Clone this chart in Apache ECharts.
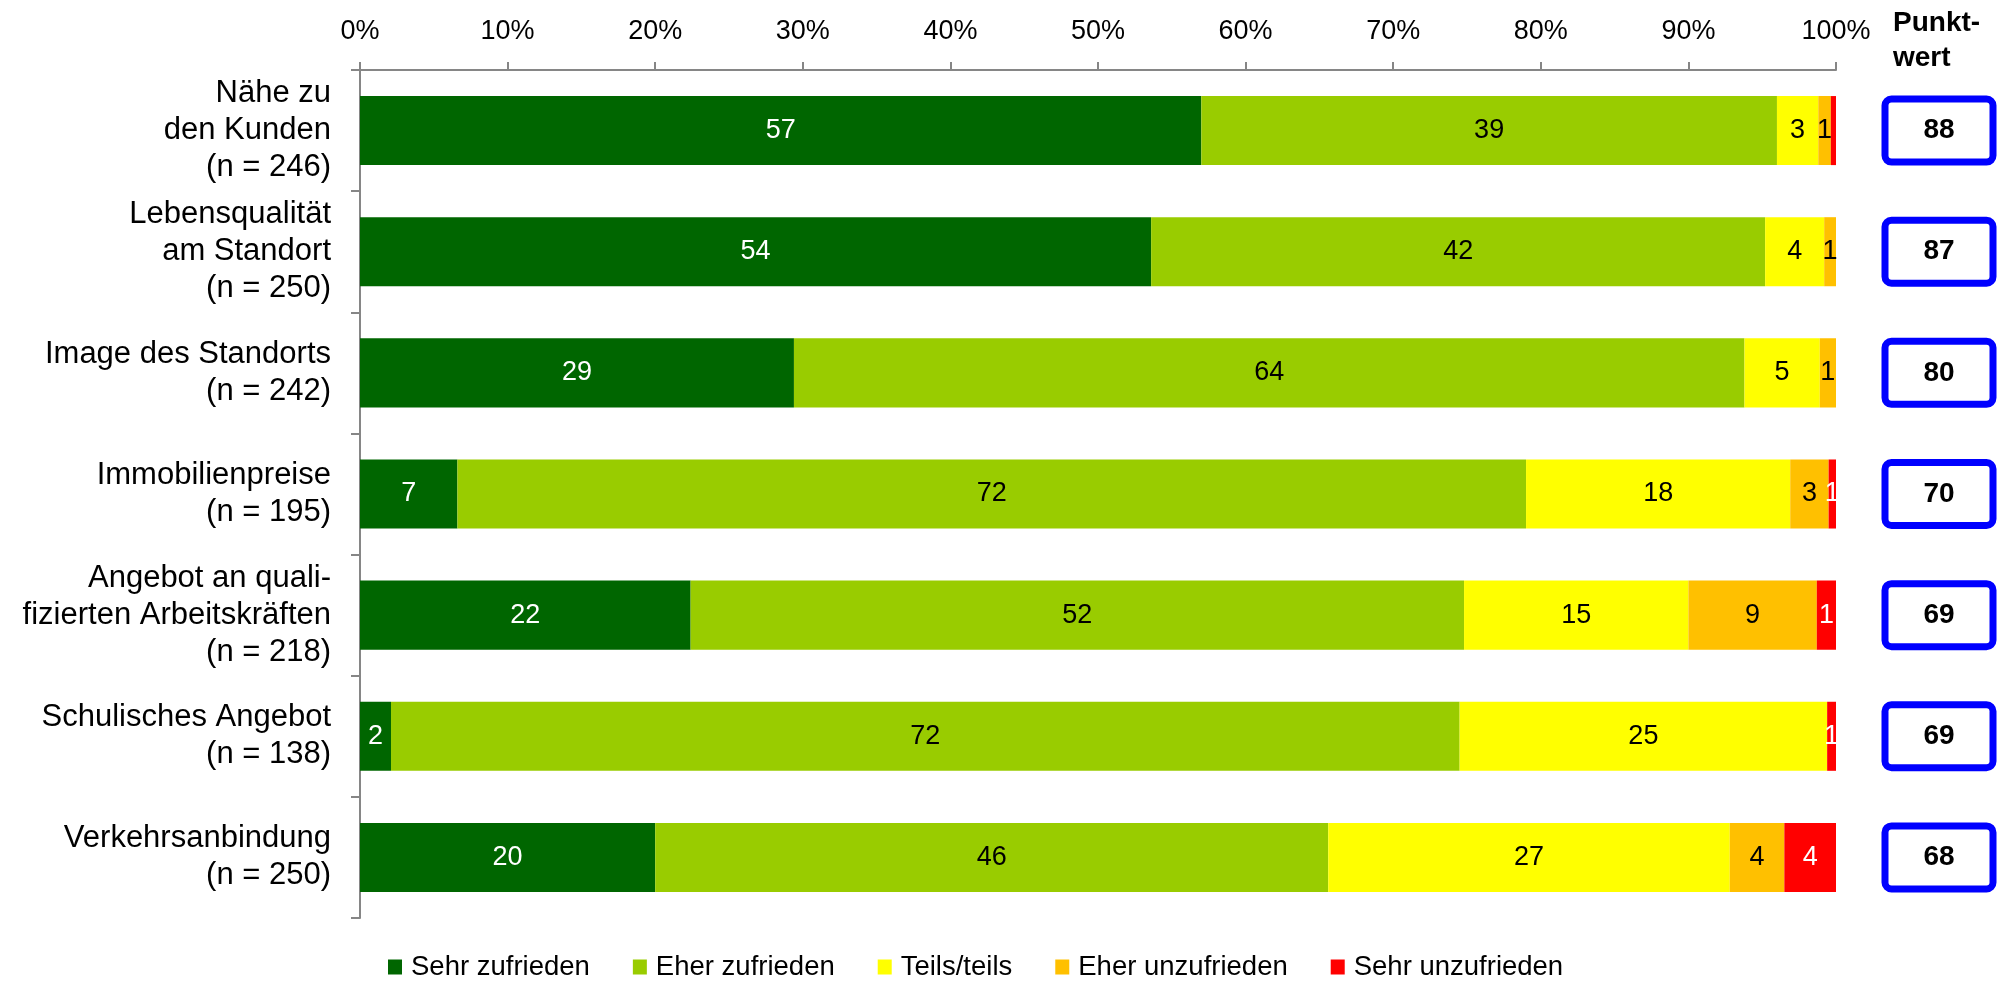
<!DOCTYPE html>
<html>
<head>
<meta charset="utf-8">
<script src="https://cdn.jsdelivr.net/npm/echarts@6/dist/echarts.min.js"></script>
<style>
  html, body { margin: 0; padding: 0; background: #ffffff; }
  #chart { width: 1997px; height: 987px; }
</style>
</head>
<body>
<div id="chart"></div>
<script>
// ---- data ----
const categories = [
  'Nähe zu\nden Kunden\n(n = 246)',
  'Lebensqualität\nam Standort\n(n = 250)',
  'Image des Standorts\n(n = 242)',
  'Immobilienpreise\n(n = 195)',
  'Angebot an quali-\nfizierten Arbeitskräften\n(n = 218)',
  'Schulisches Angebot\n(n = 138)',
  'Verkehrsanbindung\n(n = 250)'
];
const seriesNames = ['Sehr zufrieden', 'Eher zufrieden', 'Teils/teils', 'Eher unzufrieden', 'Sehr unzufrieden'];
const sehrZufrieden    = [57.0, 53.6, 29.4, 6.6, 22.4, 2.1, 20.0];
const eherZufrieden    = [39.0, 41.6, 64.4, 72.4, 52.4, 72.4, 45.6];
const teilsTeils       = [2.8, 4.0, 5.1, 17.9, 15.2, 24.9, 27.2];
const eherUnzufrieden  = [0.85, 0.8, 1.1, 2.6, 8.7, 0, 3.7];
const sehrUnzufrieden  = [0.35, 0, 0, 0.5, 1.3, 0.6, 3.5];
const punktwert        = [88, 87, 80, 70, 69, 69, 68];
const xTicks = [0, 10, 20, 30, 40, 50, 60, 70, 80, 90, 100];

const colors = ['#006600', '#99CC00', '#FFFF00', '#FFC000', '#FF0000'];
const labelColors = ['#FFFFFF', '#000000', '#000000', '#000000', '#FFFFFF'];
const values = [sehrZufrieden, eherZufrieden, teilsTeils, eherUnzufrieden, sehrUnzufrieden];
const FONT = "'Liberation Sans', Arial, sans-serif";

const chart = echarts.init(document.getElementById('chart'), null, { renderer: 'canvas' });

const series = values.map((arr, i) => ({
  name: seriesNames[i],
  type: 'bar',
  stack: 'total',
  barWidth: '57%',
  data: arr,
  itemStyle: { color: colors[i] },
  label: {
    show: true,
    position: 'inside',
    color: labelColors[i],
    fontFamily: FONT,
    fontSize: 27,
    formatter: p => { const r = Math.round(p.value); return r > 0 ? String(r) : ''; }
  },
  emphasis: { disabled: true }
}));

chart.setOption({
  animation: false,
  backgroundColor: '#ffffff',
  textStyle: { fontFamily: FONT },
  grid: { left: 360, right: 161, top: 70, bottom: 69, containLabel: false, outerBoundsMode: 'none' },
  legend: {
    data: seriesNames,
    left: 383,
    top: 948,
    itemWidth: 14,
    itemHeight: 15,
    itemGap: 43,
    icon: 'rect',
    textStyle: { fontFamily: FONT, fontSize: 27.5, color: '#000000', padding: [0, 0, 0, 4] },
    selectedMode: false
  },
  xAxis: {
    type: 'value',
    position: 'top',
    min: xTicks[0],
    max: xTicks[xTicks.length - 1],
    interval: xTicks[1] - xTicks[0],
    axisLine: { show: true, lineStyle: { color: '#868686', width: 2 } },
    axisTick: { show: true, length: 8, lineStyle: { color: '#868686', width: 2 } },
    splitLine: { show: false },
    axisLabel: { formatter: '{value}%', color: '#000000', fontFamily: FONT, fontSize: 27, margin: 25 }
  },
  yAxis: [
    {
      type: 'category',
      data: categories,
      inverse: true,
      axisLine: { show: true, lineStyle: { color: '#868686', width: 2 } },
      axisTick: { show: true, length: 9, lineStyle: { color: '#868686', width: 2 } },
      axisLabel: { color: '#000000', fontFamily: FONT, fontSize: 31, lineHeight: 37, align: 'right', margin: 29 }
    },
    {
      type: 'category',
      data: punktwert.map(String),
      inverse: true,
      position: 'right',
      axisLine: { show: false },
      axisTick: { show: false },
      axisLabel: {
        color: '#000000',
        fontFamily: FONT,
        fontSize: 28,
        fontWeight: 'bold',
        align: 'center',
        verticalAlign: 'middle',
        width: 89,
        height: 40,
        lineHeight: 40,
        padding: [8, 6],
        borderColor: '#0000FF',
        borderWidth: 7,
        borderRadius: 3,
        backgroundColor: '#FFFFFF',
        margin: 103
      }
    }
  ],
  graphic: [
    {
      type: 'text',
      left: 1893,
      top: 6,
      style: {
        text: 'Punkt-\nwert',
        fill: '#000000',
        font: 'bold 28px ' + FONT,
        lineHeight: 35,
        align: 'center',
        x: 45
      }
    }
  ],
  series: series
});
</script>
</body>
</html>
